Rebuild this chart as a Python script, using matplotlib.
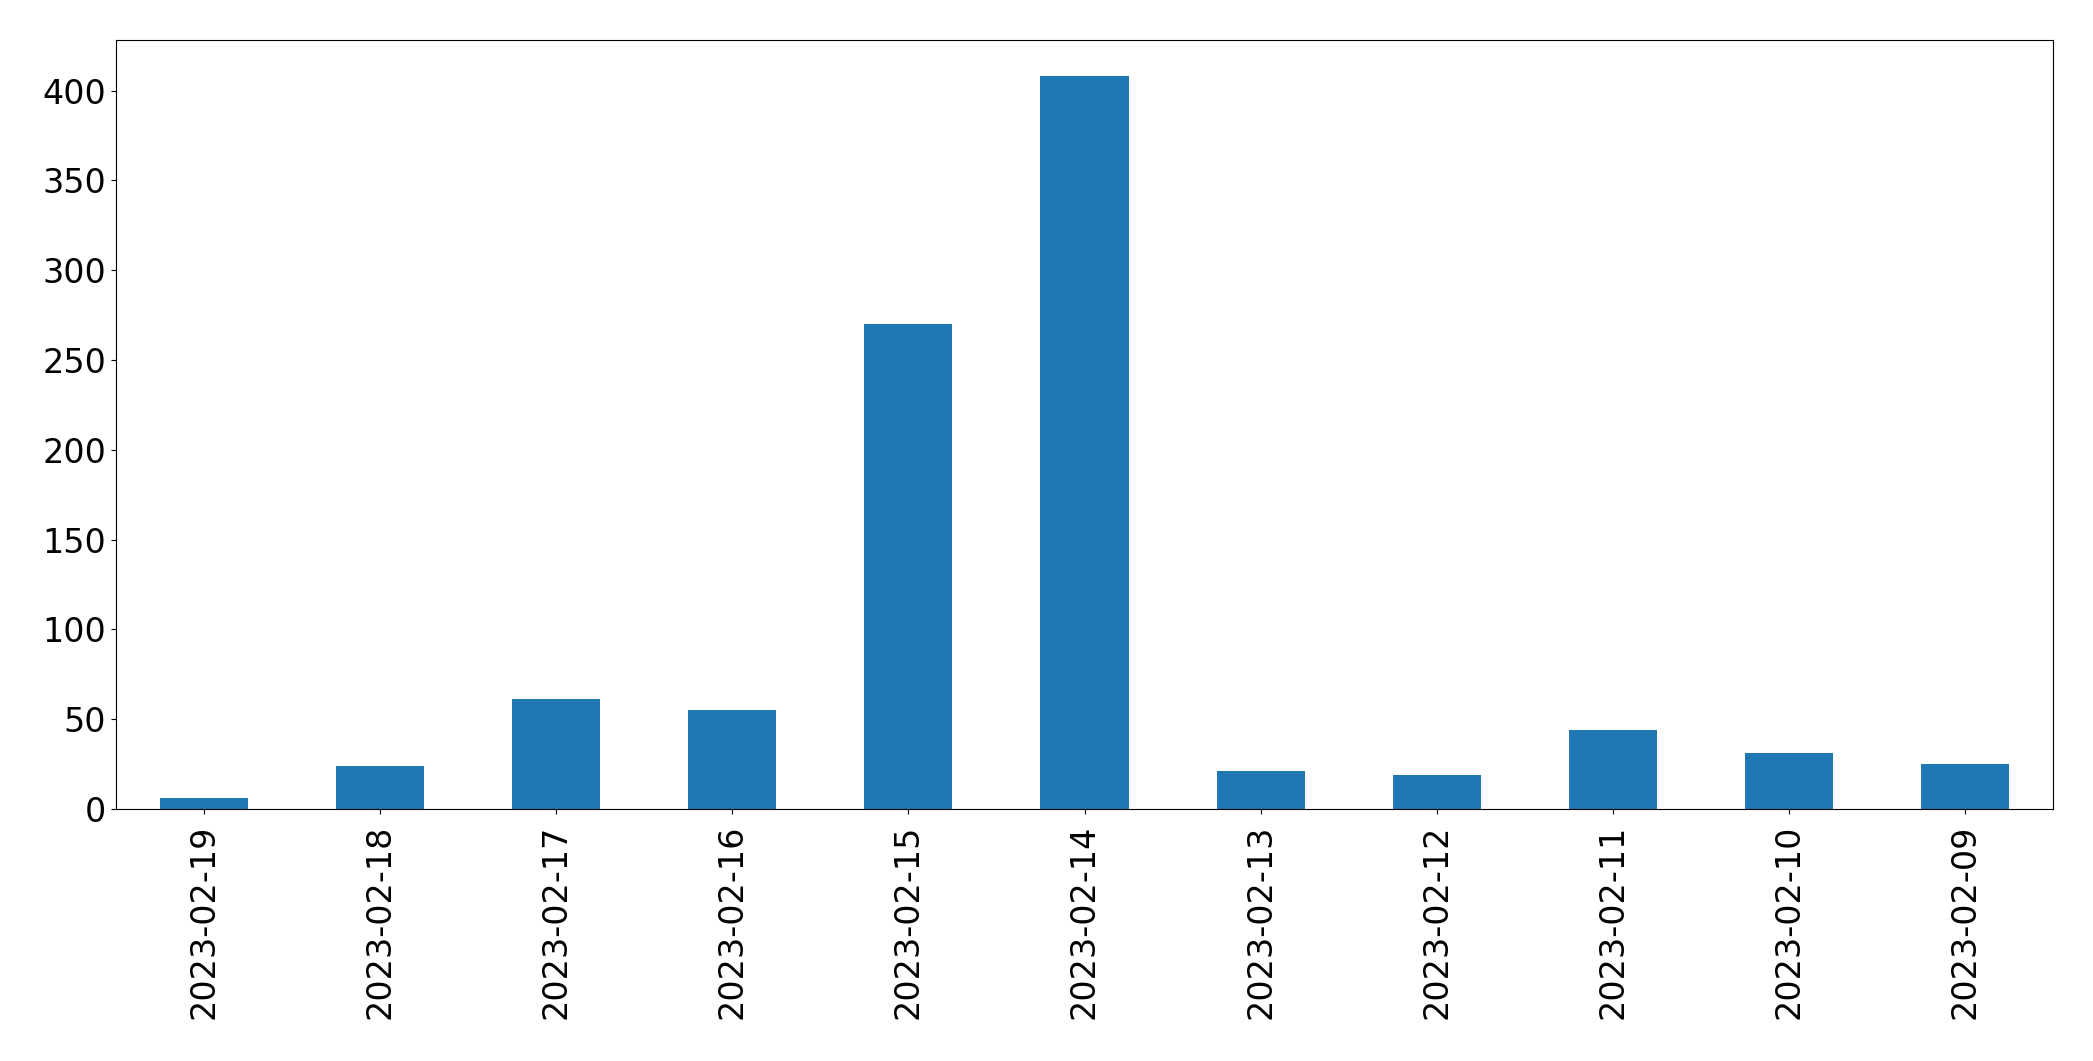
import matplotlib
matplotlib.use("Agg")
import matplotlib.pyplot as plt
import numpy as np

dates = ["2023-02-19", "2023-02-18", "2023-02-17", "2023-02-16", "2023-02-15",
         "2023-02-14", "2023-02-13", "2023-02-12", "2023-02-11", "2023-02-10",
         "2023-02-09"]
counts = [6, 24, 61, 55, 270, 408, 21, 19, 44, 31, 25]

fig = plt.figure(figsize=(20.93, 10.61), dpi=100)
ax = fig.add_axes([116 / 2093, 1 - 809 / 1061, (2053 - 116) / 2093, (809 - 39.5) / 1061])

x = np.arange(len(dates))
ax.bar(x, counts, width=0.5, color="#1f77b4")
ax.set_xlim(-0.5, len(dates) - 0.5)
ax.set_xticks(x)
ax.set_xticklabels(dates, rotation=90)
ax.set_yticks(np.arange(0, 401, 50))
ax.tick_params(axis="both", labelsize=24)
ax.tick_params(axis="x", pad=8)

fig.savefig("out.png", dpi=100)
